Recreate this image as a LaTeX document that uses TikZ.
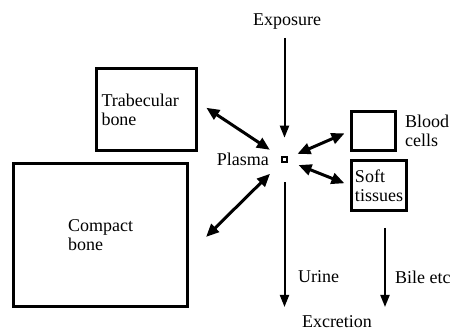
\documentclass[tikz,border=0pt]{standalone}
\usepackage{fontspec}
\setmainfont{Liberation Serif}
\usetikzlibrary{arrows.meta, positioning, calc}

\begin{document}
\begin{tikzpicture}[
    x=0.5pt, y=-0.5pt,
    % Style for the compartment boxes
    pool/.style = {
        rectangle, draw, line width=1.5pt,
        inner xsep=1pt, inner ysep=2pt,
        align=left, font=\fontsize{9}{9.6}\selectfont
    },
    % Style for plain text labels
    txt/.style = {align=left, font=\fontsize{9}{9.6}\selectfont},
    % Two-way exchange arrows
    swap/.style = {{Triangle[length=6.5pt, width=5.5pt]}-{Triangle[length=6.5pt, width=5.5pt]},
                   line width=1.5pt},
    % One-way flow arrows
    flow/.style = {-{Triangle[length=6pt, width=4.5pt]}, line width=1pt},
]
\useasboundingbox (0,0) rectangle (451,330);

% --- 1. DEFINE NODES ---

% Bone pools
\node[pool, minimum width=50pt, minimum height=41pt, text width=45pt] (trab) at (146.5,109.5) {Trabecular\\bone};
\node[pool, minimum width=87pt, minimum height=71.5pt] (compact) at (100.5,235) {Compact\\bone};

% Central plasma pool
\node[draw, line width=1pt, inner sep=0pt, minimum size=2.8pt] (plasma) at (284.5,159.5) {};
\node[txt, left=2.4pt of plasma] (plasmalbl) {Plasma};

% Other tissues
\node[pool, minimum width=22pt, minimum height=19.5pt] (blood) at (373.5,131) {};
\node[txt, right=0.5pt of blood] (bloodlbl) {Blood\\cells};
\node[pool, minimum width=27.5pt, minimum height=25pt] (soft) at (379,185.5) {Soft\\tissues};

% Inputs and outputs
\node[txt] (exposure) at (287,22) {Exposure};
\node[txt] (excretion) at (337,322) {Excretion};
\coordinate (urineend) at (284.5,307);
\coordinate (bileend) at (385,307);
\node[txt, anchor=west] (urine) at (291,277) {Urine};
\node[txt, anchor=west] (bile) at (388,277) {Bile etc};


% --- 2. DRAW CONNECTORS ---
\draw[swap, shorten <=5pt, shorten >=6.5pt] (trab.8) -- (plasma);
\draw[swap, shorten <=12pt, shorten >=7.5pt] (compact.348) -- (plasma);
\draw[swap, shorten <=3pt, shorten >=5pt] (blood.west) -- (plasma);
\draw[swap, shorten <=3pt, shorten >=5.5pt] (soft.west) -- (plasma);

\draw[flow, shorten <=0.5pt, shorten >=9pt] (exposure.south -| plasma) -- (plasma);
\draw[flow, shorten <=9.5pt] (plasma) -- (urineend);
\draw[flow, shorten <=8pt] (soft.south -| bileend) -- (bileend);

\end{tikzpicture}
\end{document}
